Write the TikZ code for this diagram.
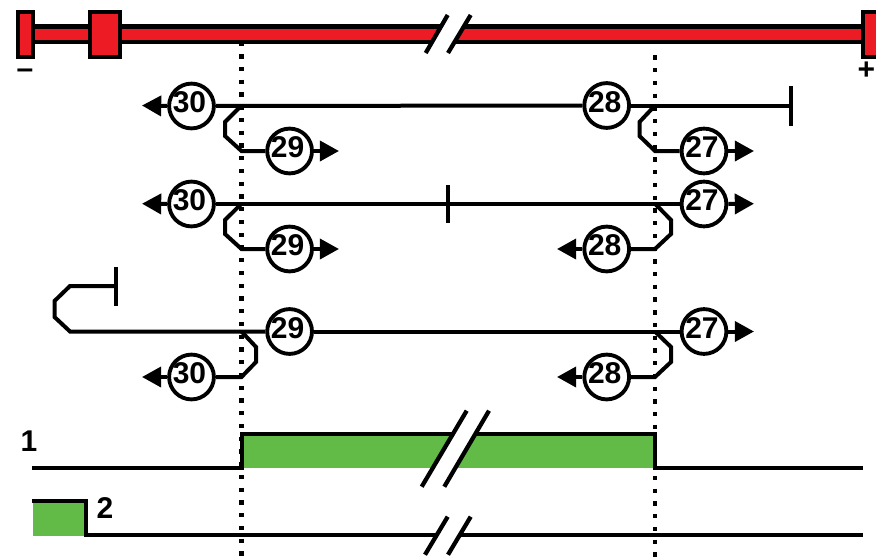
\documentclass[tikz,border=0pt]{standalone}
\usepackage{fontspec}
\setmainfont{Liberation Sans}
\usetikzlibrary{arrows.meta}
\definecolor{barred}{HTML}{ED1C24}
\definecolor{sigreen}{HTML}{62BB46}
\newcommand{\lift}[1]{\makebox[0pt]{\hspace*{-3pt}\raisebox{-4.9pt}[0pt][0pt]{#1}}}
\tikzset{
  wire/.style={line width=3pt,miter limit=10},
  tickmark/.style={line width=3.2pt},
  slash/.style={line width=3.2pt},
  gapfill/.style={fill=white,draw=none},
  redbox/.style={fill=barred,draw=black,line width=2.8pt},
  dotline/.style={line width=3.2pt,dash pattern=on 3.2pt off 6.36pt},
  numcirc/.style={circle,draw=black,line width=2.9pt,fill=white,minimum size=33.6pt,inner sep=0pt,font=\bfseries\fontsize{22.5}{22.5}\selectfont},
  sig/.style={inner sep=0pt,font=\bfseries\fontsize{22.5}{22.5}\selectfont},
  tip/.style={-{Triangle[length=14.4pt,width=15pt,sep=0pt]}}
}
\begin{document}
\begin{tikzpicture}[x=0.75pt,y=-0.75pt]
\clip (0,0) rectangle (876,557);
\fill[white] (0,0) rectangle (876,557);
% position limit bar
\draw[fill=barred,line width=3.6pt] (30,26.5) rectangle (870,42);
\node[redbox,minimum width=11.6pt,minimum height=34pt,inner sep=0pt] (limL) at (25.5,34.3) {};
\node[redbox,minimum width=22.6pt,minimum height=34pt,inner sep=0pt] (home) at (105,34.3) {};
\node[redbox,minimum width=24pt,minimum height=34pt,inner sep=0pt] (limR) at (878.7,34.3) {};
\fill[gapfill] (425.7,53)--(447.7,15)--(470.7,15)--(448,53)--cycle;
\draw[slash] (425.7,53)--(447.7,15);
\draw[slash] (448,53)--(470.7,15);
\node[sig] (minus) at (25,74) {–};
\node[sig] (plus) at (866.5,71) {+};
% dotted position marks
\coordinate (dlt) at (241.5,41.5);
\coordinate (dlb) at (241.5,557);
\coordinate (drt) at (655,55.3);
\coordinate (drb) at (655,557);
\draw[dotline] (dlt)--(dlb);
\draw[dotline] (drt)--(drb);
% signal 1
\fill[sigreen] (241.5,434) rectangle (655,468);
\coordinate (s1a) at (32,467.7);
\coordinate (s1b) at (241.5,467.7);
\coordinate (s1c) at (241.5,433.7);
\coordinate (s1d) at (655,433.7);
\coordinate (s1e) at (655,467.7);
\coordinate (s1f) at (863,467.7);
\draw[wire] (s1a)--(s1b)--(s1c)--(s1d)--(s1e)--(s1f);
\fill[gapfill] (421.7,486.7)--(466.7,410.7)--(489,410.7)--(444.3,486.7)--cycle;
\draw[slash] (421.7,486.7)--(466.7,410.7);
\draw[slash] (444.3,486.7)--(489,410.7);
\node[sig] (lab1) at (29,441) {1};
% signal 2
\fill[sigreen] (33,503) rectangle (85,536);
\coordinate (s2a) at (32,501.3);
\coordinate (s2b) at (85.5,501.3);
\coordinate (s2c) at (85.5,535.3);
\coordinate (s2d) at (863,535.3);
\draw[wire] (s2a)--(s2b)--(s2c)--(s2d);
\fill[gapfill] (425,554.7)--(447.7,516.7)--(470.7,516.7)--(448,554.7)--cycle;
\draw[slash] (425,554.7)--(447.7,516.7);
\draw[slash] (448,554.7)--(470.7,516.7);
\node[sig] (lab2) at (105,508.5) {2};
% circles
\node[numcirc] (a30) at (191.5,106) {\lift{30}};
\node[numcirc] (a28) at (606.7,105.5) {\lift{28}};
\node[numcirc] (a29) at (289.6,151) {\lift{29}};
\node[numcirc] (a27) at (704,151) {\lift{27}};
\node[numcirc] (b30) at (191.5,204) {\lift{30}};
\node[numcirc] (b27) at (704,204) {\lift{27}};
\node[numcirc] (b29) at (289.6,249) {\lift{29}};
\node[numcirc] (b28) at (606.7,249) {\lift{28}};
\node[numcirc] (c29) at (289.6,331.5) {\lift{29}};
\node[numcirc] (c27) at (704,331.5) {\lift{27}};
\node[numcirc] (c30) at (191.5,377) {\lift{30}};
\node[numcirc] (c28) at (606.7,377) {\lift{28}};
% row 1
\coordinate (ae) at (142,105.5);
\coordinate (aT) at (791,105.5);
\coordinate (aTt) at (791,86);
\coordinate (aTb) at (791,125.5);
\draw[wire,tip] (a30.west)--(ae);
\draw[wire] (a30)--(a28);
\draw[wire] (a28)--(aT);
\draw[tickmark] (aTt)--(aTb);
\coordinate (ja) at (241.5,105.5);
\coordinate (jb) at (655,105.5);
\coordinate (a1) at (225,122);
\coordinate (a2) at (225,136);
\coordinate (a3) at (241.5,151);
\coordinate (a4) at (639.5,122);
\coordinate (a5) at (639.5,136);
\coordinate (a6) at (655,151);
\coordinate (ar1) at (339,151);
\coordinate (ar2) at (754,151);
\draw[wire] (ja)--(a1)--(a2)--(a3)--(a29);
\draw[wire] (jb)--(a4)--(a5)--(a6)--(a27);
\draw[wire,tip] (a29.east)--(ar1);
\draw[wire,tip] (a27.east)--(ar2);
% row 2
\coordinate (be) at (142,203.7);
\coordinate (btt) at (448,185);
\coordinate (btb) at (448,223);
\coordinate (br) at (754,203.7);
\draw[wire,tip] (b30.west)--(be);
\draw[wire] (b30)--(b27);
\draw[tickmark] (btt)--(btb);
\draw[wire,tip] (b27.east)--(br);
\coordinate (jc) at (241.5,203.7);
\coordinate (jd) at (655,203.7);
\coordinate (b1) at (225,220);
\coordinate (b2) at (225,234);
\coordinate (b3) at (241.5,249);
\coordinate (b4) at (671,220);
\coordinate (b5) at (671,234);
\coordinate (b6) at (655,249);
\coordinate (br1) at (339,249);
\coordinate (br2) at (557,249);
\draw[wire] (jc)--(b1)--(b2)--(b3)--(b29);
\draw[wire] (jd)--(b4)--(b5)--(b6)--(b28);
\draw[wire,tip] (b29.east)--(br1);
\draw[wire,tip] (b28.west)--(br2);
% row 3
\coordinate (ctt) at (116,267);
\coordinate (ctb) at (116,306);
\coordinate (c0) at (116,286);
\coordinate (c1) at (70,286);
\coordinate (c2) at (54.5,301);
\coordinate (c3) at (54.5,317);
\coordinate (c4) at (70,331.5);
\coordinate (cr) at (754,331.5);
\draw[tickmark] (ctt)--(ctb);
\draw[wire] (c0)--(c1)--(c2)--(c3)--(c4)--(c29);
\draw[wire] (c29)--(c27);
\draw[wire,tip] (c27.east)--(cr);
\coordinate (je) at (241.5,331.5);
\coordinate (jf) at (655,331.5);
\coordinate (d1) at (256,347);
\coordinate (d2) at (256,362);
\coordinate (d3) at (241.5,377);
\coordinate (d4) at (671,347);
\coordinate (d5) at (671,362);
\coordinate (d6) at (655,377);
\coordinate (dl1) at (142,377);
\coordinate (dl2) at (557,377);
\draw[wire] (je)--(d1)--(d2)--(d3)--(c30);
\draw[wire] (jf)--(d4)--(d5)--(d6)--(c28);
\draw[wire,tip] (c30.west)--(dl1);
\draw[wire,tip] (c28.west)--(dl2);
\end{tikzpicture}
\end{document}
